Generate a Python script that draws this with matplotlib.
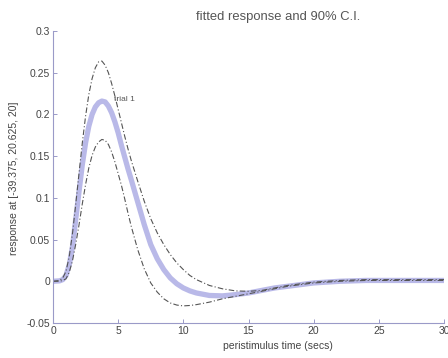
import matplotlib
matplotlib.use("Agg")
import matplotlib.pyplot as plt

plt.rcParams["font.family"] = ["Liberation Sans", "DejaVu Sans"]

# peristimulus time (secs)
t = [0, 0.5, 0.75, 1.0, 1.25, 1.5, 1.75, 2.0, 2.25, 2.5, 2.75, 3.0, 3.25, 3.5,
     3.75, 4.0, 4.25, 4.5, 4.75, 5.0, 5.25, 5.5, 5.75, 6.0, 6.5, 7.0, 7.5, 8.0,
     8.5, 9.0, 9.5, 10, 10.5, 11, 12, 13, 14, 15, 16, 17, 18, 19, 20,
     22, 24, 26, 28, 30]

# fitted response
fitted = [0, 0.0005, 0.002, 0.007, 0.020, 0.042, 0.075, 0.108, 0.140, 0.166,
          0.186, 0.200, 0.209, 0.214, 0.216, 0.215, 0.210, 0.202, 0.191, 0.178,
          0.163, 0.149, 0.135, 0.122, 0.095, 0.068, 0.044, 0.027, 0.014, 0.004,
          -0.003, -0.008, -0.0115, -0.014, -0.017, -0.0175, -0.016, -0.014,
          -0.011, -0.008, -0.006, -0.004, -0.002, 0.0, 0.001, 0.001, 0.001, 0.001]

# 90% C.I. bounds
upper = [0, 0.001, 0.004, 0.012, 0.030, 0.058, 0.093, 0.130, 0.166, 0.198,
         0.224, 0.243, 0.256, 0.263, 0.264, 0.259, 0.250, 0.237, 0.222, 0.206,
         0.190, 0.174, 0.159, 0.145, 0.120, 0.096, 0.075, 0.058, 0.044, 0.032,
         0.022, 0.014, 0.007, 0.002, -0.005, -0.009, -0.0115, -0.012, -0.011,
         -0.008, -0.005, -0.003, -0.001, 0.001, 0.002, 0.002, 0.002, 0.002]
lower = [0, 0.0, 0.001, 0.003, 0.011, 0.025, 0.045, 0.068, 0.093, 0.116,
         0.136, 0.151, 0.161, 0.167, 0.170, 0.169, 0.164, 0.155, 0.143, 0.129,
         0.115, 0.099, 0.082, 0.066, 0.038, 0.015, -0.002, -0.013, -0.021,
         -0.026, -0.0285, -0.0295, -0.029, -0.028, -0.025, -0.021, -0.018,
         -0.015, -0.012, -0.009, -0.006, -0.004, -0.002, 0.0, 0.001, 0.001,
         0.001, 0.001]

xticks = [0, 5, 10, 15, 20, 25, 30]
yticks = [-0.05, 0, 0.05, 0.1, 0.15, 0.2, 0.25, 0.3]
ytick_labels = ["-0.05", "0", "0.05", "0.1", "0.15", "0.2", "0.25", "0.3"]

fig = plt.figure(figsize=(4.48, 3.58), dpi=100)
ax = fig.add_axes([53 / 448, 1 - 323 / 358, 391 / 448, 292 / 358])

ax.plot(t, fitted, color="#b9b9e8", linewidth=3.8, solid_capstyle="round",
        solid_joinstyle="round")
ax.plot(t, upper, color="#555555", linewidth=0.8, linestyle=(0, (5, 2, 1, 2)))
ax.plot(t, lower, color="#555555", linewidth=0.8, linestyle=(0, (5, 2, 1, 2)))

ax.text(4.7, 0.218, "trial 1", fontsize=6, color="#555555", va="center")

ax.set_xlim(0, 30)
ax.set_ylim(-0.05, 0.3)
ax.set_xticks(xticks)
ax.set_yticks(yticks)
ax.set_yticklabels(ytick_labels)

for side in ["top", "right"]:
    ax.spines[side].set_visible(False)
for side in ["left", "bottom"]:
    ax.spines[side].set_color("#9a9ac8")
    ax.spines[side].set_linewidth(0.8)

ax.tick_params(direction="in", length=3, width=0.7, color="#9a9ac8",
               labelsize=7.5, labelcolor="#444444", pad=2)

ax.set_xlabel("peristimulus time (secs)", fontsize=7.5, color="#444444")
ax.xaxis.set_label_coords(0.575, -0.06)
ax.set_ylabel("response at [-39.375, 20.625, 20]", fontsize=7.5, color="#444444")
ax.yaxis.set_label_coords(-0.088, 0.497)

fig.text(278 / 448, 1 - 17 / 358, "fitted response and 90% C.I.",
         fontsize=9.4, color="#555555", ha="center", va="center")

fig.savefig("out.png", dpi=100)
